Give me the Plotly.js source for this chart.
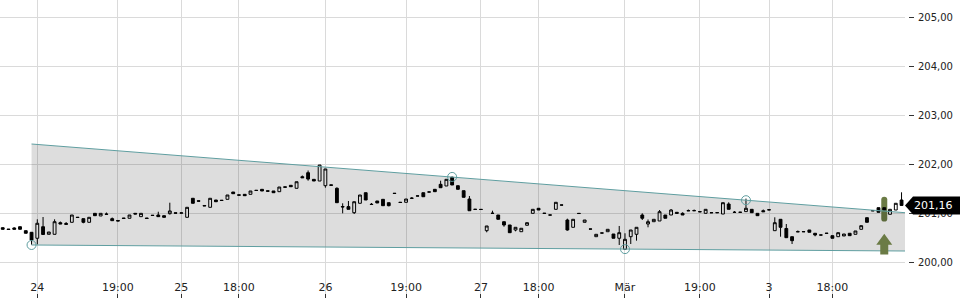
<!DOCTYPE html>
<html><head><meta charset="utf-8">
<script src="https://cdn.plot.ly/plotly-3.0.1.min.js"></script>
<style>html,body{margin:0;padding:0;background:#fff}#chart{width:960px;height:300px}</style>
</head><body><div id="chart"></div>
<script>
const openP = [200.706,200.679,200.700,200.726,200.645,200.612,200.490,200.726,200.571,200.571,
200.808,200.792,200.816,200.920,200.890,200.816,200.999,200.945,200.985,200.890,
200.853,200.902,200.898,200.999,200.931,200.904,200.961,200.965,200.951,200.992,
201.010,201.002,200.918,201.306,201.255,201.159,201.122,201.271,201.267,201.285,
201.434,201.377,201.387,201.387,201.471,201.489,201.459,201.455,201.441,201.540,
201.571,201.510,201.746,201.828,201.693,201.659,201.563,201.580,201.510,201.138,
201.136,201.012,201.204,201.420,201.185,201.251,201.285,201.216,201.410,201.226,
201.224,201.304,201.351,201.420,201.432,201.489,201.591,201.557,201.734,201.563,
201.461,201.291,201.083,201.081,200.645,201.002,200.965,200.828,200.761,200.659,
200.624,200.755,200.999,201.102,201.002,200.967,201.081,201.171,200.863,200.714,
200.999,200.816,200.681,200.522,200.600,200.624,200.577,200.490,200.265,200.522,
200.571,200.965,200.781,200.828,200.843,200.965,200.965,201.020,200.999,201.055,
201.051,201.034,200.999,201.014,201.010,200.985,201.189,201.022,201.018,201.034,
201.081,200.999,201.053,201.073,200.645,200.877,200.690,200.522,200.626,200.622,
200.659,200.592,200.559,200.594,200.543,200.522,200.537,200.592,200.571,200.673,
200.910,201.055,201.114,201.114,200.979,201.067,201.271];
const highP = [200.710,200.679,200.714,200.726,200.645,200.618,200.877,200.924,200.618,200.877,
200.832,200.822,200.965,200.920,200.890,200.918,200.999,200.999,201.016,200.914,
200.853,200.902,200.965,200.999,200.999,200.904,200.961,201.032,200.951,201.216,
201.010,201.008,201.122,201.306,201.255,201.159,201.306,201.271,201.267,201.373,
201.434,201.377,201.387,201.455,201.471,201.489,201.459,201.455,201.536,201.540,
201.571,201.644,201.771,201.873,201.693,201.985,201.904,201.580,201.530,201.204,
201.251,201.236,201.373,201.420,201.210,201.251,201.285,201.216,201.410,201.226,
201.291,201.332,201.355,201.420,201.436,201.489,201.665,201.693,201.750,201.563,
201.461,201.353,201.083,201.081,200.741,201.053,200.965,200.828,200.761,200.714,
200.694,200.808,201.081,201.102,201.002,200.967,201.224,201.171,200.890,200.877,
200.999,200.863,200.681,200.571,200.600,200.673,200.577,200.741,200.592,200.659,
200.714,200.999,200.873,200.877,201.067,200.965,201.087,201.020,201.020,201.077,
201.077,201.034,201.081,201.014,201.014,201.216,201.224,201.046,201.022,201.300,
201.081,200.999,201.077,201.073,200.918,200.877,200.781,200.522,200.649,200.626,
200.659,200.592,200.559,200.594,200.543,200.604,200.577,200.592,200.639,200.747,
200.910,201.055,201.114,201.114,201.081,201.204,201.428];
const lowP = [200.669,200.669,200.673,200.673,200.592,200.360,200.365,200.567,200.571,200.571,
200.781,200.775,200.816,200.914,200.796,200.816,200.951,200.945,200.979,200.849,
200.843,200.896,200.898,200.985,200.931,200.894,200.955,200.931,200.918,200.975,
201.002,201.002,200.918,201.204,201.247,201.151,201.122,201.236,201.261,201.285,
201.400,201.369,201.359,201.387,201.465,201.455,201.451,201.420,201.441,201.532,
201.542,201.510,201.726,201.665,201.659,201.659,201.522,201.571,201.216,200.999,
201.081,200.985,201.204,201.271,201.179,201.210,201.155,201.142,201.404,201.220,
201.224,201.304,201.351,201.338,201.432,201.441,201.522,201.557,201.577,201.489,
201.326,201.052,201.079,201.077,200.612,200.998,200.877,200.726,200.604,200.632,
200.624,200.755,200.999,201.067,200.998,200.963,201.081,201.167,200.645,200.714,
200.995,200.816,200.677,200.522,200.596,200.624,200.490,200.353,200.265,200.373,
200.441,200.863,200.714,200.828,200.843,200.898,200.965,200.999,200.965,201.051,
201.051,201.030,200.999,201.010,201.010,200.985,201.081,201.018,201.018,201.034,
201.012,200.951,201.032,201.069,200.645,200.522,200.502,200.373,200.622,200.622,
200.612,200.530,200.555,200.590,200.490,200.522,200.537,200.543,200.571,200.673,
200.816,201.051,201.020,201.067,200.979,201.067,201.160];
const closeP = [200.673,200.669,200.673,200.673,200.592,200.455,200.796,200.567,200.618,200.828,
200.781,200.775,200.965,200.914,200.816,200.918,200.951,200.999,200.979,200.849,
200.843,200.896,200.965,200.985,200.999,200.894,200.955,200.931,200.918,201.047,
201.002,201.008,201.122,201.204,201.247,201.151,201.306,201.236,201.261,201.373,
201.400,201.369,201.359,201.455,201.465,201.455,201.451,201.420,201.536,201.532,
201.542,201.644,201.726,201.699,201.659,201.985,201.904,201.571,201.216,201.130,
201.081,201.236,201.373,201.271,201.179,201.210,201.155,201.155,201.404,201.220,
201.291,201.308,201.355,201.338,201.436,201.441,201.522,201.693,201.577,201.489,
201.326,201.052,201.079,201.077,200.741,200.998,200.877,200.761,200.604,200.714,
200.694,200.808,201.081,201.067,200.998,200.963,201.224,201.167,200.659,200.877,
200.995,200.863,200.677,200.571,200.596,200.673,200.490,200.604,200.469,200.659,
200.714,200.898,200.828,200.877,201.032,200.898,201.067,200.999,200.965,201.051,
201.055,201.030,201.081,201.010,201.014,201.216,201.081,201.018,201.022,201.102,
201.012,200.951,201.032,201.069,200.808,200.714,200.502,200.441,200.622,200.626,
200.612,200.557,200.555,200.590,200.490,200.604,200.577,200.543,200.639,200.747,
200.816,201.051,201.020,201.067,201.081,201.204,201.160];

const tickIndex = [6, 20, 31, 41, 56, 70, 83, 93, 108, 121, 133, 144];
const tickLabels = ['24', '19:00', '25', '18:00', '26', '19:00', '27', '18:00', 'Mär', '19:00', '3', '18:00'];

const wedgeX = [5, 156.6];
const wedgeUpper = [202.414, 201.012];
const wedgeLower = [200.353, 200.230];
const touchIndex = [5, 78, 108, 129];
const touchPrice = [200.353, 201.742, 200.269, 201.267];

const signalIndex = 153;
const signalBar = [200.83, 201.34];
const signalArrow = [200.16, 200.58];
const lastPrice = 201.16;

const idx = openP.map((_, i) => i);
const teal = '#5f9ea0';
const olive = '#6b7b45';

const traces = [
  {type: 'scatter', mode: 'lines', x: [wedgeX[0], wedgeX[1], wedgeX[1], wedgeX[0]],
   y: [wedgeUpper[0], wedgeUpper[1], wedgeLower[1], wedgeLower[0]],
   fill: 'toself', fillcolor: 'rgba(0,0,0,0.135)', line: {width: 0}, hoverinfo: 'skip'},
  {type: 'scatter', mode: 'lines', x: wedgeX, y: wedgeUpper, line: {color: teal, width: 1}, hoverinfo: 'skip'},
  {type: 'scatter', mode: 'lines', x: wedgeX, y: wedgeLower, line: {color: teal, width: 1}, hoverinfo: 'skip'},
  {type: 'candlestick', x: idx, open: openP, high: highP, low: lowP, close: closeP,
   increasing: {line: {color: '#000', width: 1}, fillcolor: '#fff'},
   decreasing: {line: {color: '#000', width: 1}, fillcolor: '#000'},
   whiskerwidth: 0, hoverinfo: 'skip'},
  {type: 'scatter', mode: 'markers', x: touchIndex, y: touchPrice,
   marker: {symbol: 'circle-open', size: 9, color: teal, line: {width: 1}}, hoverinfo: 'skip'}
];

const r = 0.06, hd = 0.224;
const bTop = signalBar[1], bBot = signalBar[0];
const aTip = signalArrow[1], aBot = signalArrow[0];
const shapes = [
  {type: 'path', layer: 'between', xref: 'x', yref: 'y', xsizemode: 'pixel', xanchor: signalIndex,
   path: `M-3,${bTop - r} Q-3,${bTop} 0,${bTop} Q3,${bTop} 3,${bTop - r} L3,${bBot + r} Q3,${bBot} 0,${bBot} Q-3,${bBot} -3,${bBot + r} Z`,
   fillcolor: olive, line: {width: 0}},
  {type: 'path', layer: 'above', xref: 'x', yref: 'y', xsizemode: 'pixel', xanchor: signalIndex,
   path: `M0,${aTip} L8,${aTip - hd} L4,${aTip - hd} L4,${aBot} L-4,${aBot} L-4,${aTip - hd} L-8,${aTip - hd} Z`,
   fillcolor: olive, line: {width: 0}},
  {type: 'path', layer: 'above', xref: 'paper', yref: 'y', xsizemode: 'pixel', xanchor: 1,
   ysizemode: 'pixel', yanchor: lastPrice,
   path: 'M-55,0 L-47,9 L0,9 L0,-9 L-47,-9 Z', fillcolor: '#000', line: {width: 0}}
];

const layout = {
  width: 960, height: 300,
  margin: {l: 0, r: 0, t: 0, b: 2},
  paper_bgcolor: '#fff', plot_bgcolor: '#fff',
  showlegend: false, hovermode: false, separators: ',.',
  font: {family: 'DejaVu Sans', size: 11, color: '#222'},
  xaxis: {domain: [0, 0.94271], range: [-0.474, 156.6], tickmode: 'array',
    tickvals: tickIndex, ticktext: tickLabels, ticks: 'inside', ticklen: 4, tickcolor: '#333',
    ticklabelposition: 'inside', showgrid: true, gridcolor: '#dadada', gridwidth: 1,
    zeroline: false, showline: false, rangeslider: {visible: false},
    tickfont: {size: 11, color: '#222'}, fixedrange: true},
  yaxis: {anchor: 'free', position: 0.9458, side: 'right', range: [199.271, 205.353],
    tick0: 200, dtick: 1, tickformat: '.2f', ticks: 'outside', ticklen: 5, tickcolor: '#333',
    ticklabelstandoff: 2,
    showgrid: true, gridcolor: '#dadada', zeroline: false, showline: false,
    tickfont: {size: 10, color: '#222'}, fixedrange: true},
  shapes: shapes,
  annotations: [{xref: 'paper', yref: 'y', x: 1, y: lastPrice, xanchor: 'right', yanchor: 'middle',
    xshift: -5, text: lastPrice.toFixed(2).replace('.', ','), showarrow: false,
    font: {family: 'DejaVu Sans', size: 11, color: '#fff'}}]
};

Plotly.newPlot('chart', traces, layout, {displayModeBar: false, staticPlot: true});
</script>
</body></html>
